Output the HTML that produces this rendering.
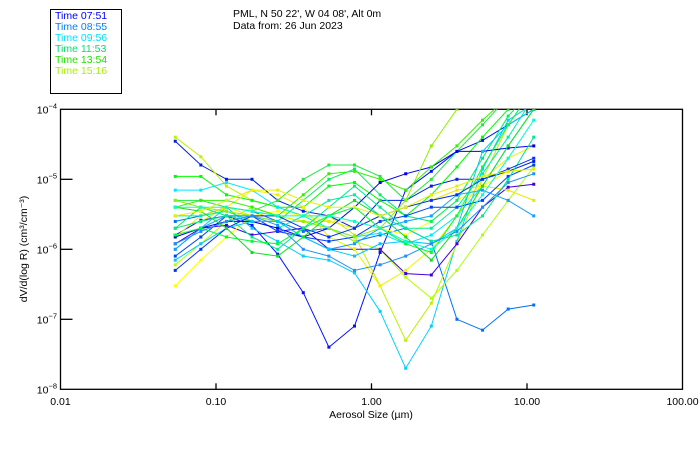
<!DOCTYPE html>
<html><head><meta charset="utf-8"><style>
html,body{margin:0;padding:0;background:#fff;}
svg{display:block;font-family:"Liberation Sans",sans-serif;}
</style></head><body>
<svg id="chart" width="700" height="450" viewBox="0 0 700 450">
<defs><clipPath id="plotclip"><rect x="60.5" y="109.3" width="622" height="280"/></clipPath></defs>
<g>
<rect x="50.5" y="9.5" width="71" height="84" fill="none" stroke="#000" stroke-width="1"/>
<text x="55" y="19" font-size="10.5" fill="#0000ff">Time 07:51</text>
<text x="55" y="30" font-size="10.5" fill="#0080ff">Time 08:55</text>
<text x="55" y="41" font-size="10.5" fill="#00e0ff">Time 09:56</text>
<text x="55" y="52" font-size="10.5" fill="#00e070">Time 11:53</text>
<text x="55" y="63" font-size="10.5" fill="#20e000">Time 13:54</text>
<text x="55" y="74" font-size="10.5" fill="#a8f000">Time 15:16</text>
</g>
<text x="233" y="17" font-size="10.5" fill="#000">PML, N 50 22', W 04 08', Alt 0m</text>
<text x="233" y="29" font-size="10.5" fill="#000">Data from: 26 Jun 2023</text>
<g id="axes"></g>
<g id="series" clip-path="url(#plotclip)"></g>
<text x="371" y="418" font-size="10.5" text-anchor="middle">Aerosol Size (µm)</text>
<text transform="translate(27,249) rotate(-90)" font-size="10.5" text-anchor="middle">dV/d(log R) (cm³/cm⁻³)</text>
</svg>
<script>
const sizes=[0.0547,0.0799,0.1168,0.1705,0.2492,0.3641,0.5320,0.7773,1.136,1.660,2.425,3.543,5.177,7.565,11.05];
const xTickValues=[0.01,0.1,1,10,100];
const xTickLabels=["0.01","0.10","1.00","10.00","100.00"];
const yTickExponents=[-4,-5,-6,-7,-8];
const seriesColors=["#0010ff","#0020e0","#0070ff","#00d0ff","#c0f000","#b0ff00","#4000e0","#20e840","#00ff00","#00e8ff","#ffff00","#f0f000","#e8e800","#00f060","#00f0a0","#0040ff","#0000f0","#10a0ff","#90f000","#30f000","#00e890","#00c8ff","#0030ff","#00ff30","#10e020","#2090ff","#00ffd0","#e8f000"];
const s1=[1.6e-6,2.6e-6,3e-6,2.2e-6,8.5e-7,2.4e-7,4e-8,8e-8,9e-7,7e-6,1.3e-5,2.5e-5,3.6e-5,6e-5,1e-4];
const s2=[3.5e-5,1.6e-5,1e-5,1e-5,5e-6,3.5e-6,3e-6,2e-6,5e-6,5e-6,8e-6,1e-5,1e-5,1.3e-5,1.8e-5];
const s3=[2.5e-6,3e-6,4e-6,3.5e-6,2.5e-6,1.8e-6,2e-6,1.3e-6,1.6e-6,2e-6,1.3e-6,1e-7,7e-8,1.4e-7,1.6e-7];
const s4=[1e-6,2e-6,4e-6,2e-6,1.3e-6,8e-7,7e-7,4.6e-7,1.3e-7,2e-8,8e-8,1.3e-6,1.4e-5,7e-5,1.2e-4];
const s5=[4e-5,2.1e-5,8e-6,5e-6,4e-6,3e-6,3e-6,1.6e-6,3e-7,5e-8,1.7e-7,1.2e-6,1e-5,6e-5,2e-4];
const s6=[6e-7,1.2e-6,2.5e-6,4e-6,3e-6,2.5e-6,2e-6,1.3e-6,1e-6,4e-7,2e-7,5e-7,1.6e-6,5e-6,1.5e-5];
const s7=[1.2e-6,2e-6,2.2e-6,1.6e-6,1.8e-6,2e-6,1e-6,1e-6,1e-6,4.5e-7,4.3e-7,1.2e-6,4e-6,7.7e-6,8.5e-6];
const s8=[5e-6,5e-6,4e-6,3.5e-6,5e-6,1e-5,1.6e-5,1.6e-5,1.1e-5,5e-6,1e-5,2.5e-5,6e-5,1.5e-4,2e-4];
const s9=[1.1e-5,1.1e-5,6e-6,5e-6,4e-6,4e-6,8e-6,9e-6,5e-6,3e-6,6e-6,1.5e-5,4e-5,1e-4,2e-4];
const s10=[7e-6,7e-6,9e-6,7e-6,4e-6,3e-6,2e-6,1.5e-6,1.7e-6,1.2e-6,1.6e-6,3e-6,8e-6,3e-5,1e-4];
const s11=[3e-7,7e-7,1.5e-6,3e-6,3.5e-6,3e-6,2.5e-6,2.5e-6,2e-6,1.6e-6,2.5e-6,5e-6,8e-6,1.3e-5,1.4e-5];
const s12=[2e-6,2.5e-6,4e-6,7e-6,6e-6,4e-6,1.5e-6,1e-6,3e-7,5e-7,1e-6,3e-6,1e-5,2e-5,3e-5];
const s13=[1.5e-6,3e-6,4e-6,3e-6,3e-6,2.5e-6,2.5e-6,2e-6,3e-6,4e-6,5e-6,7e-6,8e-6,7e-6,5e-6];
const s14=[2e-6,4e-6,3e-6,2.5e-6,2.5e-6,5e-6,1e-5,1.4e-5,6e-6,3e-6,2.5e-6,5e-6,2e-5,8e-5,2e-4];
const s15=[3e-6,3e-6,3.5e-6,2.5e-6,2e-6,3e-6,5e-6,6e-6,3e-6,2e-6,2e-6,4e-6,1.2e-5,4e-5,1.5e-4];
const s16=[8e-7,1.5e-6,3e-6,3e-6,1.8e-6,1.5e-6,1.3e-6,1.5e-6,2.5e-6,3e-6,4e-6,4e-6,5e-6,1.1e-5,1.6e-5];
const s17=[1.5e-6,2e-6,2.5e-6,2.5e-6,2e-6,1.5e-6,2e-6,4e-6,9e-6,1.2e-5,1.5e-5,2.5e-5,2.5e-5,2.8e-5,3e-5];
const s18=[1e-6,2e-6,3e-6,3e-6,2.5e-6,1.5e-6,1e-6,1.2e-6,2e-6,2.5e-6,3e-6,6e-6,7e-6,5e-6,3e-6];
const s19=[5e-6,4e-6,3.5e-6,3e-6,2.5e-6,2.5e-6,2e-6,1.5e-6,2e-6,5e-6,3e-5,1e-4,2e-4,3e-4,3e-4];
const s20=[4e-6,5e-6,5e-6,4e-6,3e-6,6e-6,1.2e-5,1.3e-5,1e-5,7e-6,1.5e-5,3e-5,7e-5,1.5e-4,2e-4];
const s21=[2e-6,2.5e-6,3e-6,1.5e-6,1e-6,2e-6,4e-6,8e-6,4e-6,2e-6,1.3e-6,1.6e-6,3e-6,1e-5,4e-5];
const s22=[7e-7,1.2e-6,2e-6,2.5e-6,2.5e-6,1.5e-6,1e-6,8e-7,1.2e-6,1.3e-6,1.2e-6,2e-6,2.5e-5,6e-5,1e-4];
const s23=[5e-7,1e-6,2e-6,3e-6,3e-6,2e-6,1.5e-6,2e-6,3e-6,4e-6,5e-6,6e-6,1e-5,1.4e-5,2e-5];
const s24=[1.6e-6,2e-6,1.5e-6,1.3e-6,1.2e-6,2e-6,3e-6,4e-6,2e-6,1.2e-6,9e-7,3e-6,1.5e-5,6e-5,2e-4];
const s25=[4e-6,3.5e-6,2e-6,9e-7,8e-7,1.5e-6,3e-6,5e-6,3e-6,1.5e-6,7e-7,2e-6,8e-6,3e-5,1e-4];
const s26=[1.2e-6,1.8e-6,2.5e-6,3e-6,2.2e-6,1e-6,8e-7,5e-7,6e-7,8e-7,1.2e-6,1.8e-6,4e-6,9e-6,1.2e-5];
const s27=[4e-6,4e-6,4e-6,3.5e-6,3e-6,3e-6,3e-6,2.5e-6,2e-6,1.3e-6,1e-6,2e-6,6e-6,2e-5,7e-5];
const s28=[3e-6,3.5e-6,5e-6,7e-6,7e-6,5e-6,4e-6,4e-6,3e-6,4e-6,6e-6,8e-6,1.1e-5,1.3e-5,1.4e-5];
const allSeries=[s1,s2,s3,s4,s5,s6,s7,s8,s9,s10,s11,s12,s13,s14,s15,s16,s17,s18,s19,s20,s21,s22,s23,s24,s25,s26,s27,s28];

const NS="http://www.w3.org/2000/svg";
const X0=60.5,X1=682.5,Y0=109.3,Y1=389.3;
function xScale(v){return X0+(Math.log10(v)+2)/4*(X1-X0);}
function yScale(v){return Y0+(-4-Math.log10(v))/4*(Y1-Y0);}
function mk(tag,attrs,parent){const e=document.createElementNS(NS,tag);for(const k in attrs)e.setAttribute(k,attrs[k]);parent.appendChild(e);return e;}
const axes=document.getElementById('axes');
const frame=mk('rect',{x:X0,y:Y0,width:X1-X0,height:Y1-Y0,fill:'none',stroke:'#000','stroke-width':1.3},axes);


xTickValues.forEach((v,i)=>{
  const x=xScale(v);
  if(i>0&&i<xTickValues.length-1){
    const tb=mk('line',{x1:x,y1:Y1,x2:x,y2:Y1-6,stroke:'#000','stroke-width':1.3},axes);
    
    
    const tt=mk('line',{x1:x,y1:Y0,x2:x,y2:Y0+6,stroke:'#000','stroke-width':1.3},axes);
    
    
  }
  const t=mk('text',{x:x,y:405,'font-size':10.5,'text-anchor':'middle'},axes);
  t.textContent=xTickLabels[i];
  
  
});
yTickExponents.forEach((e,i)=>{
  const y=yScale(Math.pow(10,e));
  if(i>0&&i<yTickExponents.length-1){
    const tl=mk('line',{x1:X0,y1:y,x2:X0+12,y2:y,stroke:'#000','stroke-width':1.3},axes);
    
    
  }
  const t=mk('text',{x:57,y:y+4,'font-size':10.5,'text-anchor':'end'},axes);
  t.textContent='10';
  const sp=mk('tspan',{dy:-5,'font-size':7.5},t);
  sp.textContent=String.fromCharCode(8722)+String(-e);
  
  
});
const sg=document.getElementById('series');
allSeries.forEach((s,si)=>{
  const col=seriesColors[si%seriesColors.length];
  const g=mk('g',{},sg);
  
  
  const pts=s.map((v,i)=>xScale(sizes[i]).toFixed(1)+','+yScale(v).toFixed(1)).join(' ');
  const pl=mk('polyline',{points:pts,fill:'none',stroke:col,'stroke-width':1},g);
  
  
  s.forEach((v,i)=>{
    const r=mk('rect',{x:xScale(sizes[i])-1.5,y:yScale(v)-1.5,width:3,height:3,fill:col},g);
    
    
  });
});
</script>
</body></html>
